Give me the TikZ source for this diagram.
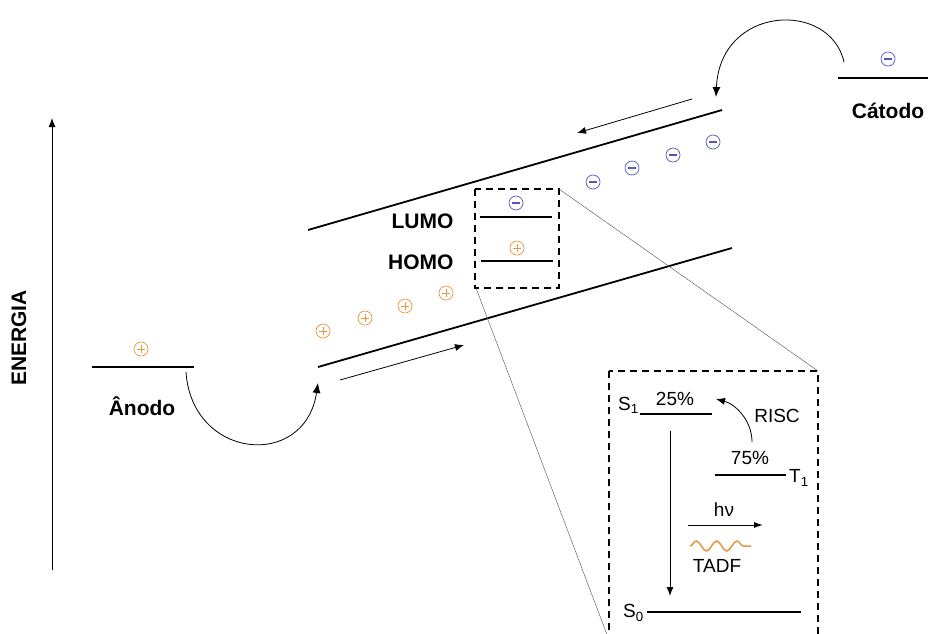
\documentclass[tikz,border=0pt]{standalone}
\usepackage{fontspec}
\setmainfont{Liberation Sans}
\usetikzlibrary{arrows.meta,decorations.pathmorphing}
\definecolor{orangec}{RGB}{230,150,60}
\definecolor{bluec}{RGB}{85,85,190}
\tikzset{
  hole/.style={circle,draw=orangec,line width=0.7pt,minimum size=14pt,inner sep=0pt,
    path picture={\draw[orangec,line width=1pt]
      ([xshift=-4pt]path picture bounding box.center) -- ([xshift=4pt]path picture bounding box.center)
      ([yshift=-4pt]path picture bounding box.center) -- ([yshift=4pt]path picture bounding box.center);}},
  elec/.style={circle,draw=bluec,line width=0.7pt,minimum size=14pt,inner sep=0pt,
    path picture={\draw[bluec,line width=1.2pt]
      ([xshift=-4pt]path picture bounding box.center) -- ([xshift=4pt]path picture bounding box.center);}},
  big/.style={font=\fontsize{21}{25}\selectfont\bfseries},
  small/.style={font=\fontsize{19}{22}\selectfont},
  level/.style={line width=1.3pt},
  band/.style={line width=1.8pt},
  thinarrow/.style={line width=0.8pt,-{Latex[length=9pt,width=7pt]}},
  curvarrow/.style={line width=0.8pt,-{Latex[length=10pt,width=8pt]}},
  dbox/.style={line width=1.8pt,dash pattern=on 7pt off 5pt},
  zoomline/.style={line width=0.4pt,black!70},
}
\begin{document}
\begin{tikzpicture}[x=1pt,y=-1pt]
\useasboundingbox (0,0) rectangle (928,633);
\clip (0,0) rectangle (928,633);
% energy axis
\coordinate (ea) at (52,570);
\coordinate (eb) at (52,118);
\draw[line width=1pt,-{Latex[length=9pt,width=7pt]}] (ea) -- (eb);
\node[big,rotate=90] (energia) at (19,338) {ENERGIA};
% anode
\coordinate (an1) at (92,367); \coordinate (an2) at (194,367);
\draw[level] (an1) -- (an2);
\node[hole] (ah) at (141,349) {};
\node[big] (anodo) at (142,406) {Ânodo};
% cathode
\coordinate (ca1) at (838,78); \coordinate (ca2) at (930,78);
\draw[level] (ca1) -- (ca2);
\node[elec] (ce) at (888,59) {};
\node[big] (catodo) at (888,111) {Cátodo};
% bands
\coordinate (lb1) at (318,367); \coordinate (lb2) at (732,248);
\coordinate (ub1) at (308,230); \coordinate (ub2) at (722,110);
\draw[band] (lb1) -- (lb2);
\draw[band] (ub1) -- (ub2);
% transport arrows
\coordinate (ha1) at (340,380); \coordinate (ha2) at (464,345);
\draw[thinarrow] (ha1) -- (ha2);
\coordinate (ea1) at (692,99); \coordinate (ea2) at (577,133);
\draw[thinarrow] (ea1) -- (ea2);
% injection arcs
\coordinate (aj1) at (186,372); \coordinate (aj2) at (318,383);
\draw[curvarrow] (aj1) .. controls (192,460) and (305,470) .. (aj2);
\coordinate (cj1) at (844,62); \coordinate (cj2) at (716,97);
\draw[curvarrow] (cj1) .. controls (830,0) and (720,5) .. (cj2);
% holes and electrons
\node[hole] (h1) at (323,331) {};
\node[hole] (h2) at (365,318) {};
\node[hole] (h3) at (405,306) {};
\node[hole] (h4) at (446,293) {};
\node[elec] (e1) at (593,182) {};
\node[elec] (e2) at (632,168) {};
\node[elec] (e3) at (673,155) {};
\node[elec] (e4) at (713,142) {};
% small box
\coordinate (sb1) at (475,189); \coordinate (sb2) at (559,288);
\draw[dbox] (sb1) rectangle (sb2);
\coordinate (lu1) at (480,217); \coordinate (lu2) at (552,217);
\draw[level] (lu1) -- (lu2);
\coordinate (ho1) at (481,261); \coordinate (ho2) at (553,261);
\draw[level] (ho1) -- (ho2);
\node[elec] (le) at (516,203) {};
\node[hole] (hh) at (517,248) {};
\node[big,anchor=east] (lumo) at (457,221) {LUMO};
\node[big,anchor=east] (homo) at (457,262) {HOMO};
% big box
\coordinate (bb1) at (609,371); \coordinate (bb2) at (818,650);
\draw[dbox] (bb1) rectangle (bb2);
% zoom lines
\coordinate (zl1) at (559,189); \coordinate (zl2) at (818,371);
\coordinate (zl3) at (476,288); \coordinate (zl4) at (609,640);
\draw[zoomline] (zl1) -- (zl2);
\draw[zoomline] (zl3) -- (zl4);
% Jablonski
\node[small,anchor=east,inner sep=1pt] (s1) at (640,405) {S\textsubscript{1}};
\coordinate (s1a) at (640,414); \coordinate (s1b) at (712,414);
\draw[level] (s1a) -- (s1b);
\node[small] (p25) at (675,399) {25\%};
\coordinate (t1a) at (715,475); \coordinate (t1b) at (786,475);
\draw[level] (t1a) -- (t1b);
\node[small] (p75) at (750,458) {75\%};
\node[small,anchor=west,inner sep=1pt] (t1) at (788,478) {T\textsubscript{1}};
\node[small] (risc) at (777,416) {RISC};
\coordinate (r1) at (752,442); \coordinate (r2) at (716,399);
\draw[line width=0.8pt,-{Latex[length=9pt,width=7pt]}] (r1) .. controls (752,420) and (735,404) .. (r2);
\coordinate (v1) at (670,431); \coordinate (v2) at (670,596);
\draw[line width=1pt,-{Latex[length=9pt,width=7pt]}] (v1) -- (v2);
\node[small] (hv) at (724,510) {hν};
\coordinate (hv1) at (688,525); \coordinate (hv2) at (763,525);
\draw[line width=1pt,-{Latex[length=9pt,width=6pt]}] (hv1) -- (hv2);
\coordinate (w1) at (690,546); \coordinate (w2) at (751,546);
\draw[orangec,line width=1.5pt,decorate,decoration={snake,amplitude=5pt,segment length=20.3pt}] (w1) -- (w2);
\node[small] (tadf) at (717,566) {TADF};
\node[small,anchor=east,inner sep=1pt] (s0) at (645,613) {S\textsubscript{0}};
\coordinate (s0a) at (647,612); \coordinate (s0b) at (801,612);
\draw[level] (s0a) -- (s0b);
\end{tikzpicture}
\end{document}
